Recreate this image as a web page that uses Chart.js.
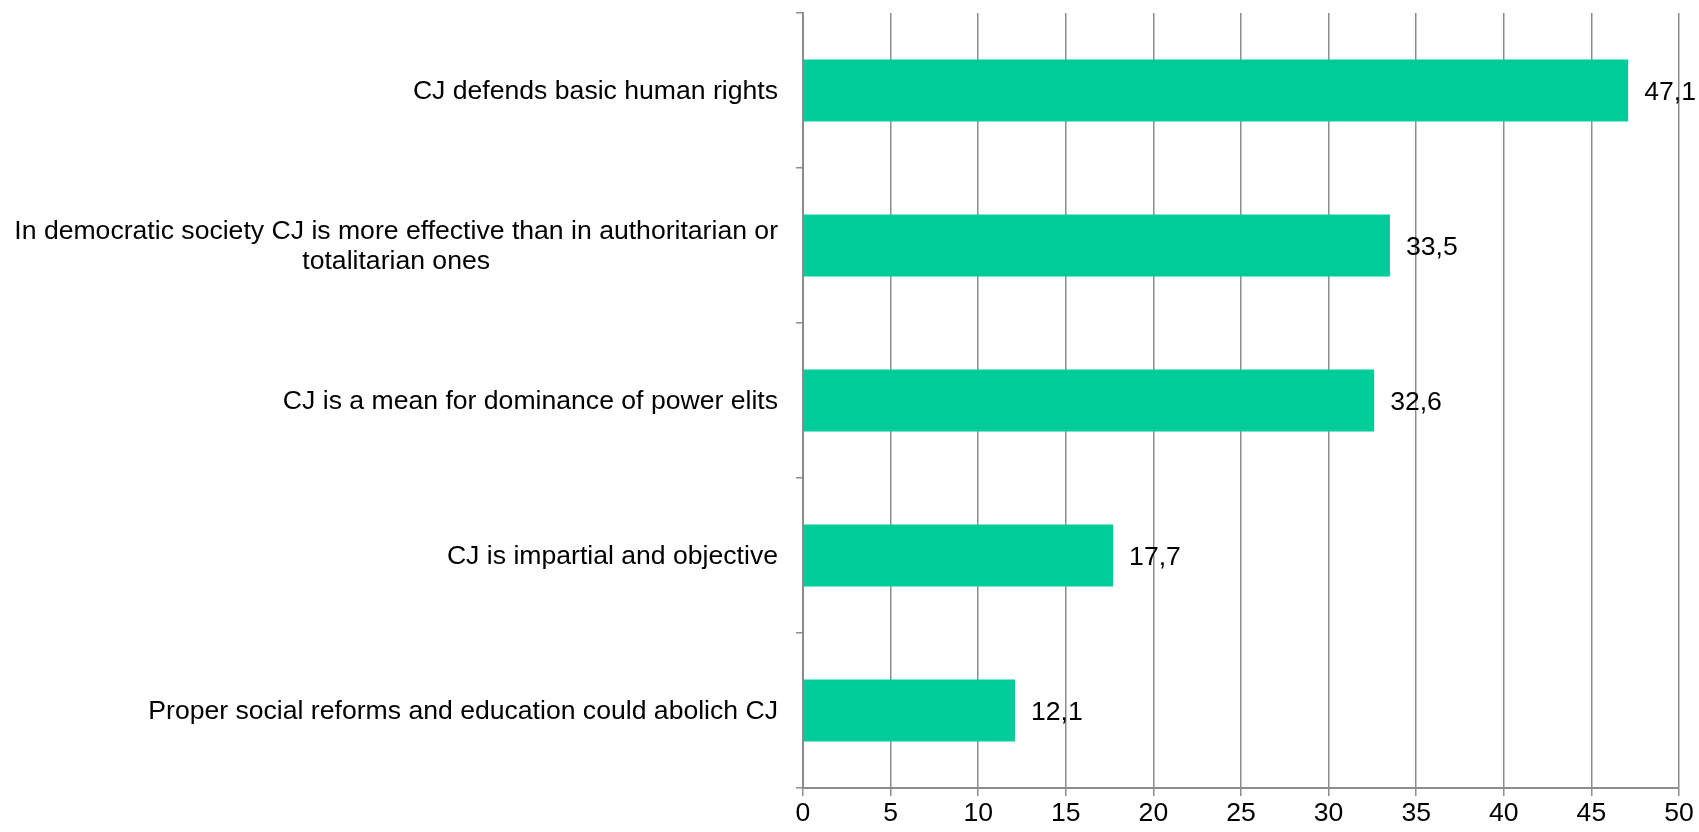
<!DOCTYPE html>
<html>
<head>
<meta charset="utf-8">
<script src="https://cdn.jsdelivr.net/npm/chart.js@4/dist/chart.umd.min.js"></script>
<style>
  html, body { margin: 0; padding: 0; background: #fff; }
  #wrap { width: 1699px; height: 832px; }
</style>
</head>
<body>
<div id="wrap"><canvas id="cjChart" width="1699" height="832"></canvas></div>
<script>
const categories = [
  'CJ defends basic human rights',
  ['In democratic society CJ is more effective than in authoritarian or', 'totalitarian ones'],
  'CJ is a mean for dominance of power elits',
  'CJ is impartial and objective',
  'Proper social reforms and education could abolich CJ'
];
const values = [47.1, 33.5, 32.6, 17.7, 12.1];
const xTicks = [0, 5, 10, 15, 20, 25, 30, 35, 40, 45, 50];

const BAR_COLOR = '#00cc99';
const GRID_COLOR = '#8c8c8c';
const FONT = '"Liberation Sans", Arial, sans-serif';
const FONT_SIZE = 26.6;

// value labels at the end of each bar, with a comma as decimal mark
const valueLabels = {
  id: 'valueLabels',
  afterDatasetsDraw(chart) {
    const ctx = chart.ctx;
    const meta = chart.getDatasetMeta(0);
    ctx.save();
    ctx.font = FONT_SIZE + 'px ' + FONT;
    ctx.fillStyle = '#000';
    ctx.textAlign = 'left';
    ctx.textBaseline = 'middle';
    meta.data.forEach((bar, i) => {
      ctx.fillText(values[i].toFixed(1).replace('.', ','), bar.x + 16, bar.y + 2);
    });
    ctx.restore();
  }
};

// category labels, each line centred on the longest line, block right-aligned to the axis
const categoryLabels = {
  id: 'categoryLabels',
  afterDraw(chart) {
    const ctx = chart.ctx;
    const yScale = chart.scales.y;
    const right = chart.chartArea.left - 25;
    const lineH = 30;
    ctx.save();
    ctx.font = FONT_SIZE + 'px ' + FONT;
    ctx.fillStyle = '#000';
    ctx.textBaseline = 'middle';
    ctx.textAlign = 'center';
    categories.forEach((label, i) => {
      const lines = Array.isArray(label) ? label : [label];
      const w = Math.max(...lines.map(l => ctx.measureText(l).width));
      const cx = right - w / 2;
      const y0 = yScale.getPixelForTick(i) - (lines.length - 1) * lineH / 2 + 1;
      lines.forEach((l, k) => ctx.fillText(l, cx, y0 + k * lineH));
    });
    ctx.restore();
  }
};

new Chart(document.getElementById('cjChart'), {
  type: 'bar',
  data: {
    labels: categories,
    datasets: [{
      data: values,
      backgroundColor: BAR_COLOR,
      borderWidth: 0,
      categoryPercentage: 1,
      barPercentage: 0.4
    }]
  },
  options: {
    indexAxis: 'y',
    responsive: false,
    animation: false,
    layout: { padding: { top: 13, right: 20, left: 0, bottom: 0 } },
    plugins: {
      legend: { display: false },
      tooltip: { enabled: false }
    },
    scales: {
      x: {
        min: 0,
        max: 50,
        afterBuildTicks: (scale) => { scale.ticks = xTicks.map(v => ({ value: v })); },
        afterFit: (scale) => { scale.height = 44; },
        ticks: {
          color: '#000',
          font: { family: FONT, size: FONT_SIZE },
          padding: 2
        },
        grid: { color: GRID_COLOR, lineWidth: 1.5, tickLength: 8 },
        border: { color: GRID_COLOR, width: 2 }
      },
      y: {
        afterFit: (scale) => { scale.width = 803; },
        ticks: { display: false },
        grid: {
          color: GRID_COLOR,
          lineWidth: 1.5,
          tickLength: 7,
          offset: true,
          drawOnChartArea: false
        },
        border: { color: GRID_COLOR, width: 2 }
      }
    }
  },
  plugins: [valueLabels, categoryLabels]
});
</script>
</body>
</html>
